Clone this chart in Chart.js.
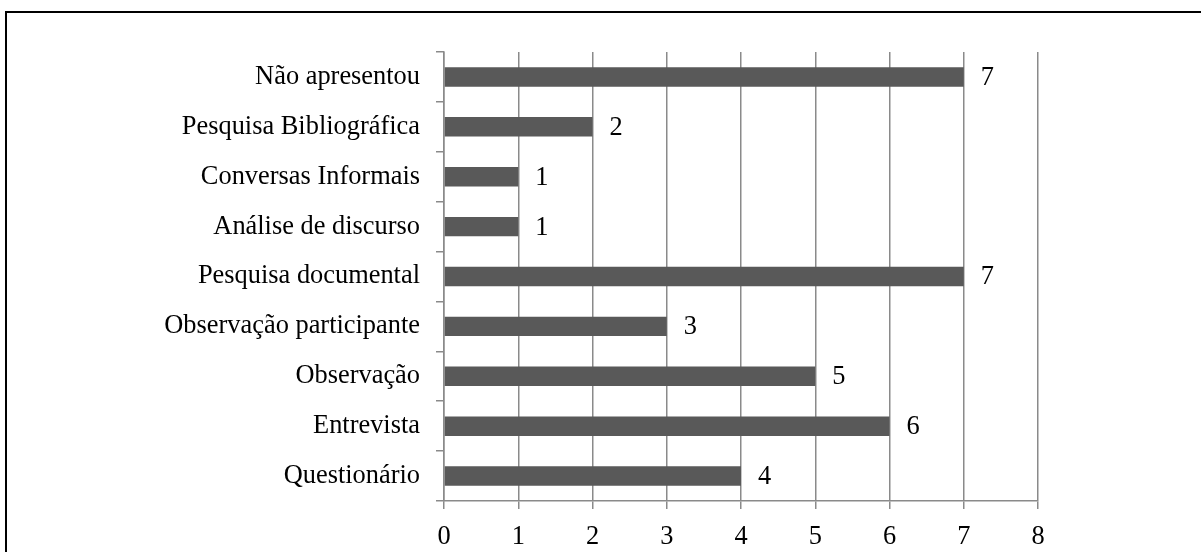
<!DOCTYPE html>
<html>
<head>
<meta charset="utf-8">
<script src="https://cdn.jsdelivr.net/npm/chart.js@4/dist/chart.umd.min.js"></script>
<style>
    html, body { margin: 0; padding: 0; background: #fff; overflow: hidden; }
    .quadro { position: absolute; left: 5px; top: 11px; width: 1400px; height: 800px; border: 2px solid #000; }
    #grafico { position: absolute; left: 0; top: 0; }
</style>
</head>
<body>
<div class="quadro"></div>
<canvas id="grafico" width="1201" height="552"></canvas>
<script>
const categorias = [
    'Não apresentou',
    'Pesquisa Bibliográfica',
    'Conversas Informais',
    'Análise de discurso',
    'Pesquisa documental',
    'Observação participante',
    'Observação',
    'Entrevista',
    'Questionário'
];
const quantidades = [7, 2, 1, 1, 7, 3, 5, 6, 4];
const ticksEixoX = [0, 1, 2, 3, 4, 5, 6, 7, 8];

const fonteTexto = "'Times New Roman', 'Liberation Serif', serif";
const tamanhoFonte = 26.4;
const corGrade = '#8a8a8a';

// escreve o valor de cada barra logo depois do fim dela
const rotulosValores = {
    id: 'rotulosValores',
    afterDatasetsDraw(chart) {
        const ctx = chart.ctx;
        const meta = chart.getDatasetMeta(0);
        ctx.save();
        ctx.font = `${tamanhoFonte}px ${fonteTexto}`;
        ctx.fillStyle = '#000';
        ctx.textAlign = 'left';
        ctx.textBaseline = 'middle';
        meta.data.forEach((barra, indice) => {
            ctx.fillText(String(quantidades[indice]), barra.x + 17, barra.y + 1);
        });
        ctx.restore();
    }
};

new Chart(document.getElementById('grafico'), {
    type: 'bar',
    data: {
        labels: categorias,
        datasets: [{
            data: quantidades,
            backgroundColor: '#595959',
            borderWidth: 0,
            barPercentage: 0.39,
            categoryPercentage: 1
        }]
    },
    options: {
        indexAxis: 'y',
        responsive: false,
        animation: false,
        devicePixelRatio: 1,
        layout: { padding: { top: 52, right: 163, left: 0, bottom: 0 } },
        plugins: {
            legend: { display: false },
            tooltip: { enabled: false }
        },
        scales: {
            x: {
                min: ticksEixoX[0],
                max: ticksEixoX[ticksEixoX.length - 1],
                afterBuildTicks: escala => {
                    escala.ticks = ticksEixoX.map(valor => ({ value: valor }));
                },
                afterFit: escala => { escala.height = 51; },
                border: { display: true, color: corGrade, width: 1.5 },
                grid: { color: corGrade, lineWidth: 1.5, tickLength: 8, drawTicks: true },
                ticks: {
                    color: '#000',
                    padding: 12,
                    maxRotation: 0,
                    font: { family: fonteTexto, size: tamanhoFonte }
                }
            },
            y: {
                offset: true,
                afterFit: escala => { escala.width = 444; },
                border: { display: true, color: corGrade, width: 1.5 },
                grid: { offset: true, drawOnChartArea: false, color: corGrade, lineWidth: 1.5, tickLength: 8 },
                ticks: {
                    color: '#000',
                    padding: 16,
                    autoSkip: false,
                    font: { family: fonteTexto, size: tamanhoFonte }
                }
            }
        }
    },
    plugins: [rotulosValores]
});
</script>
</body>
</html>
